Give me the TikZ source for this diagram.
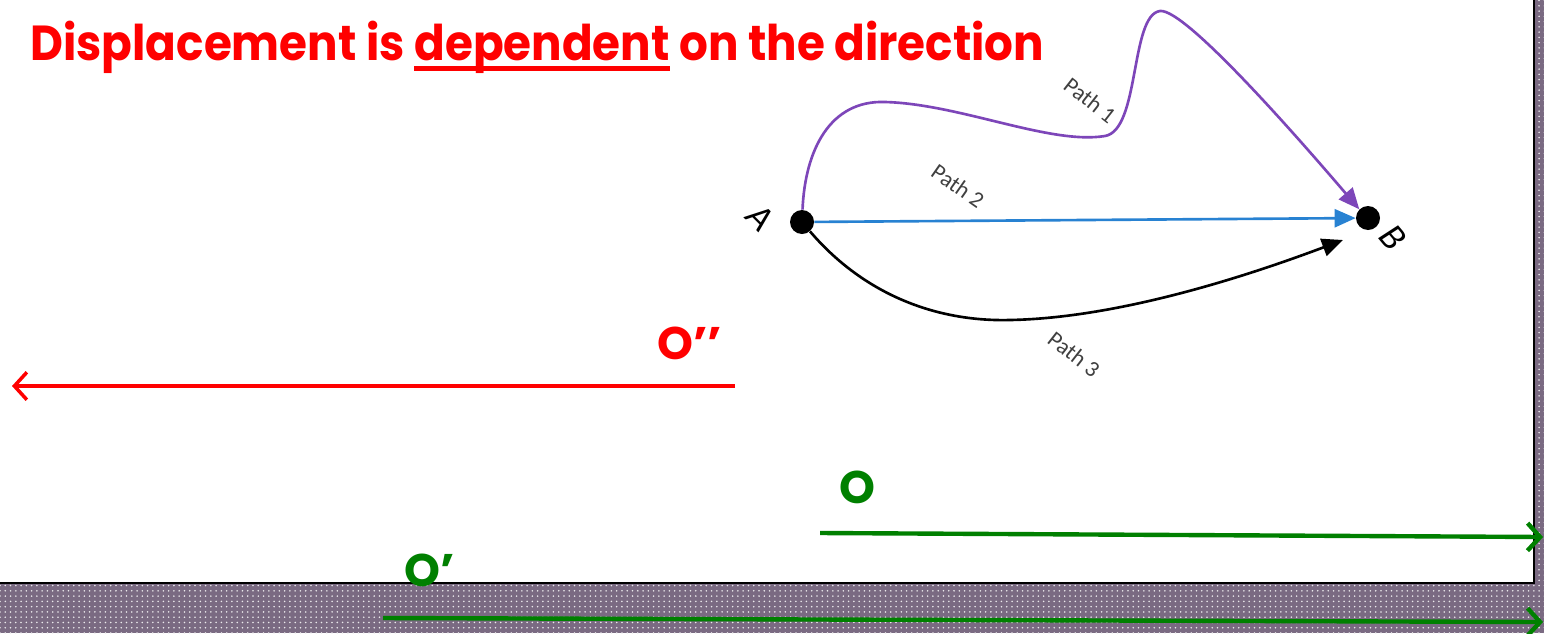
\documentclass[tikz,border=0pt]{standalone}
\usepackage{fontspec}
\setmainfont{Poppins}
\newfontfamily\labelfont{Carlito}
\usetikzlibrary{positioning,arrows.meta,patterns}
\definecolor{slidered}{RGB}{255,0,0}
\definecolor{slidegreen}{RGB}{0,128,0}
\definecolor{framepurple}{RGB}{122,106,130}
\definecolor{pathpurple}{RGB}{125,70,185}
\definecolor{pathblue}{RGB}{40,130,210}
\newcommand{\thickul}[1]{{\setbox0\hbox{#1}\rlap{\rule[-0.22em]{\wd0}{0.09em}}\box0}}

\begin{document}
\begin{tikzpicture}[x=0.02cm,y=-0.02cm,
  dot/.style={circle,fill=black,inner sep=0pt,minimum size=0.48cm},
  pathlbl/.style={font=\labelfont\fontsize{13}{13}\selectfont,text=black!75,inner sep=0pt},
  ptlbl/.style={font=\labelfont\itshape\fontsize{21}{21}\selectfont,inner sep=1pt},
  olbl/.style={font=\bfseries\fontsize{26}{26}\selectfont,inner sep=0pt},
  curve/.style={line width=1.5pt,-{Triangle[length=4.2mm,width=3.6mm]}},
  disp/.style={-{Straight Barb[length=2.5mm,width=5.5mm]}}]
  \useasboundingbox (0,0) rectangle (1544,633);

  % slide frame
  \fill[framepurple] (0,0) rectangle (1544,633);
  \fill[pattern=dots,pattern color=white!85!framepurple] (0,0) rectangle (1544,633);
  \fill[white] (0,0) rectangle (1534,583);
  \draw[line width=1.5pt] (0,583) -- (1534,583) -- (1534,0);

  % title
  \node[anchor=base west,inner sep=0pt,text=slidered,
    font=\bfseries\fontsize{28}{28}\selectfont] (title) at (30,60)
    {\scalebox{0.92}[1]{Displacement is \thickul{dependent} on the direction}};

  % A to B
  \node[dot] (A) at (802,222) {};
  \node[dot] (B) at (1368,218) {};
  \node[ptlbl,rotate=-45] (Alab) at (760,218) {A};
  \node[ptlbl,rotate=-50] (Blab) at (1393,238) {B};
  \coordinate (p3end) at (1343,240);

  \draw[curve,pathpurple] (A) .. controls (805,150) and (830,100) .. (885,102)
    .. controls (960,104) and (1050,145) .. (1105,136)
    .. controls (1140,130) and (1130,15) .. (1160,11)
    .. controls (1185,8) and (1300,140) .. (B.north west);
  \draw[curve,pathblue] (A) -- (B);
  \draw[curve,black] (A) .. controls (860,290) and (930,322) .. (1010,320)
    .. controls (1120,318) and (1250,275) .. (p3end);
  \node[pathlbl,rotate=-38] (lbl1) at (1090,100) {Path 1};
  \node[pathlbl,rotate=-35] (lbl2) at (958,186) {Path 2};
  \node[pathlbl,rotate=-38] (lbl3) at (1074,354) {Path 3};

  % displacements
  \coordinate (o2s) at (735,386);
  \coordinate (o2e) at (12,386);
  \draw[disp,slidered,line width=2pt] (o2s) -- (o2e);
  \node[olbl,text=slidered] (o2) at (690,343) {O’’};
  \coordinate (os) at (820,533);
  \coordinate (oe) at (1543,537);
  \draw[disp,slidegreen,line width=2.5pt] (os) -- (oe);
  \node[olbl,text=slidegreen] (o) at (857,487) {O};
  \coordinate (o1s) at (383,618);
  \coordinate (o1e) at (1543,622);
  \draw[disp,slidegreen,line width=2.5pt] (o1s) -- (o1e);
  \node[olbl,text=slidegreen] (o1) at (430,570) {O’};
\end{tikzpicture}
\end{document}
